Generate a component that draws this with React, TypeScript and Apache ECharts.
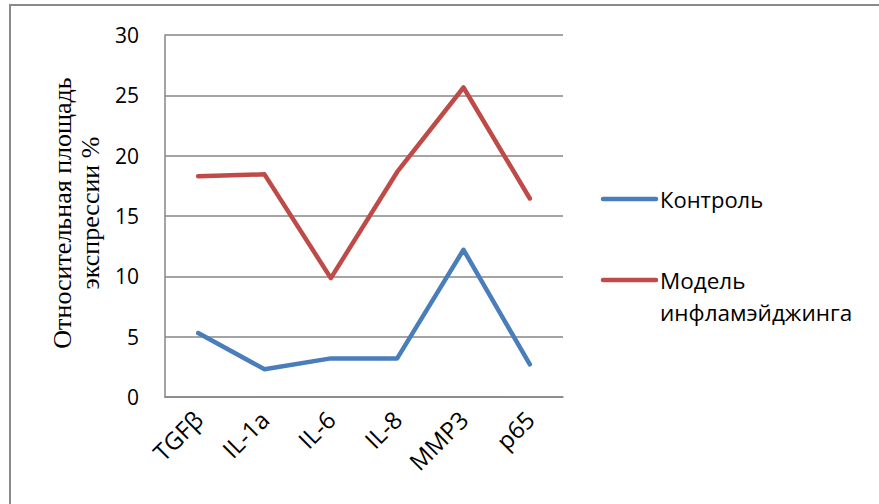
import React, { useEffect, useRef } from "react";
import * as echarts from "echarts";

const categories = ["TGFβ", "IL-1a", "IL-6", "IL-8", "MMP3", "p65"];
const controlValues = [5.3, 2.3, 3.2, 3.2, 12.2, 2.7];
const modelValues = [18.3, 18.45, 9.85, 18.65, 25.65, 16.45];
const seriesNames = ["Контроль", "Модель\nинфламэйджинга"];
const yTicks = { min: 0, max: 30, interval: 5 };
const yAxisTitle = "Относительная площадь\nэкспрессии %";

const BLUE = "#4a7ebb";
const RED = "#be4b48";
const GRID = "#868686";
const SANS = "'Open Sans', 'Noto Sans', sans-serif";
const SERIF = "'Liberation Serif', 'DejaVu Serif', serif";

export default function App() {
  const ref = useRef<HTMLDivElement>(null);
  useEffect(() => {
    if (!ref.current) return;
    const chart = echarts.init(ref.current, null, { renderer: "svg" });
    chart.setOption({
      animation: false,
      backgroundColor: "#ffffff",
      grid: { left: 165, right: 316, top: 35, bottom: 107, containLabel: false },
      xAxis: {
        type: "category",
        data: categories,
        boundaryGap: true,
        axisLine: { show: true, lineStyle: { color: GRID, width: 1.5 } },
        axisTick: { show: false },
        axisLabel: {
          rotate: 45,
          margin: 18,
          interval: 0,
          fontSize: 24,
          fontFamily: SANS,
          color: "#000",
        },
      },
      yAxis: {
        type: "value",
        min: yTicks.min,
        max: yTicks.max,
        interval: yTicks.interval,
        axisLine: { show: true, lineStyle: { color: GRID, width: 1.5 } },
        axisTick: { show: false },
        splitLine: { show: true, lineStyle: { color: GRID, width: 1.5 } },
        axisLabel: {
          margin: 26,
          fontSize: 21,
          fontFamily: SANS,
          color: "#000",
        },
      },
      legend: { show: false },
      series: [
        {
          name: seriesNames[0],
          type: "line",
          data: controlValues,
          symbol: "none",
          lineStyle: { color: BLUE, width: 4.5, cap: "round", join: "round" },
          itemStyle: { color: BLUE },
        },
        {
          name: seriesNames[1],
          type: "line",
          data: modelValues,
          symbol: "none",
          lineStyle: { color: RED, width: 4.5, cap: "round", join: "round" },
          itemStyle: { color: RED },
        },
      ],
      graphic: [
        {
          type: "rect",
          shape: { x: 10, y: 5, width: 1000, height: 700 },
          style: { fill: "none", stroke: "#8a8a8a", lineWidth: 2 },
          silent: true,
          z: -10,
        },
        {
          type: "text",
          x: 76,
          y: 213,
          rotation: Math.PI / 2,
          style: {
            text: yAxisTitle,
            font: `26px ${SERIF}`,
            lineHeight: 28,
            fill: "#000",
            textAlign: "center",
            textVerticalAlign: "middle",
          },
        },
        {
          type: "line",
          shape: { x1: 603, y1: 199, x2: 656, y2: 199 },
          style: { stroke: BLUE, lineWidth: 4.5, lineCap: "round" },
        },
        {
          type: "text",
          x: 660,
          y: 199,
          style: {
            text: seriesNames[0],
            font: `22px ${SANS}`,
            fill: "#000",
            textVerticalAlign: "middle",
            textAlign: "left",
          },
        },
        {
          type: "line",
          shape: { x1: 603, y1: 280, x2: 656, y2: 280 },
          style: { stroke: RED, lineWidth: 4.5, lineCap: "round" },
        },
        {
          type: "text",
          x: 660,
          y: 264,
          style: {
            text: seriesNames[1],
            font: `22.5px ${SANS}`,
            lineHeight: 32,
            fill: "#000",
            textVerticalAlign: "top",
            textAlign: "left",
          },
        },
      ],
    });
    return () => chart.dispose();
  }, []);
  return (
    <div
      ref={ref}
      style={{ position: "fixed", left: 0, top: 0, width: 879, height: 504 }}
    />
  );
}
